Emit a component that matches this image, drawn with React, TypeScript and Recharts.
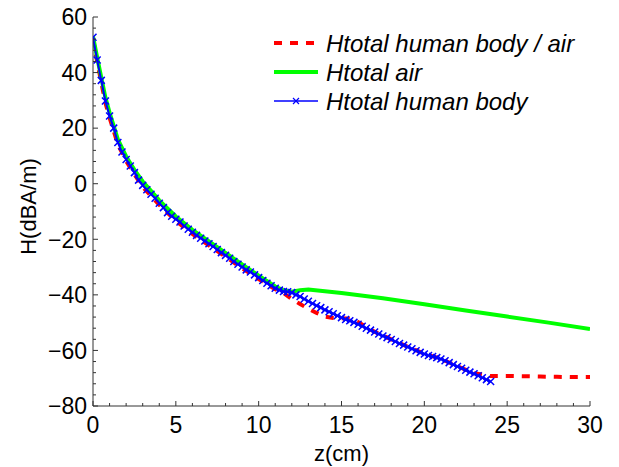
import { LineChart, Line, XAxis, YAxis } from "recharts";

// distance z (cm) and field H (dBA/m)
const zBody = [
  0, 0.25, 0.5, 0.75, 1, 1.25, 1.5, 1.75, 2, 2.25, 2.5, 2.75, 3, 3.25, 3.5, 3.75,
  4, 4.25, 4.5, 4.75, 5, 5.25, 5.5, 5.75, 6, 6.25, 6.5, 6.75, 7, 7.25, 7.5, 7.75,
  8, 8.25, 8.5, 8.75, 9, 9.25, 9.5, 9.75, 10, 10.25, 10.5, 10.75, 11, 11.25, 11.5, 11.75,
  12, 12.25, 12.5, 12.75, 13, 13.25, 13.5, 13.75, 14, 14.25, 14.5, 14.75, 15, 15.25, 15.5, 15.75,
  16, 16.25, 16.5, 16.75, 17, 17.25, 17.5, 17.75, 18, 18.25, 18.5, 18.75, 19, 19.25, 19.5, 19.75,
  20, 20.25, 20.5, 20.75, 21, 21.25, 21.5, 21.75, 22, 22.25, 22.5, 22.75, 23, 23.25, 23.5, 23.75, 24,
];
const hBody = [
  52.7, 44.5, 37.2, 29.8, 24.4, 20.0, 14.8, 11.4, 8.7, 6.4, 4.0, 1.3, -0.6, -2.2, -3.8, -5.2,
  -7.0, -8.6, -10.4, -11.7, -12.8, -13.8, -15.2, -16.4, -17.5, -18.6, -19.6, -20.6, -21.6, -22.6, -23.7, -24.8,
  -25.8, -26.8, -28.0, -29.0, -30.0, -31.0, -31.8, -32.8, -33.8, -34.8, -35.8, -36.7, -37.6, -38.3, -38.8, -38.9,
  -39.2, -40.0, -40.6, -41.5, -42.3, -43.1, -43.9, -44.6, -45.4, -46.1, -46.8, -47.5, -48.2, -48.9, -49.3, -49.9,
  -50.6, -51.3, -52.0, -52.7, -53.4, -54.1, -54.8, -55.4, -56.1, -56.8, -57.5, -58.1, -58.8, -59.4, -60.1, -60.7,
  -61.3, -61.8, -62.2, -62.6, -63.1, -63.7, -64.4, -65.1, -65.8, -66.4, -67.1, -67.8, -68.4, -69.1, -69.8, -70.5, -71.2,
];

const zAir = [
  0, 0.25, 0.5, 0.75, 1, 1.5, 2, 2.5, 3, 3.5, 4, 5, 6, 7, 8, 9, 10, 11, 11.5, 12, 12.5, 13,
  15, 17.5, 20, 22.5, 25, 27.5, 30,
];
const hAir = [
  53, 45.5, 38.2, 31, 25.6, 16, 9.8, 5, 0.8, -2.6, -6, -11.8, -16.6, -20.8, -24.9, -29, -33.1, -37,
  -38.4, -38.9, -38.3, -38.1, -39.3, -41.2, -43.4, -45.6, -47.8, -50, -52.3,
];

const zRatio = [
  0, 0.25, 0.5, 0.75, 1, 1.5, 2, 2.5, 3, 3.5, 4, 5, 6, 7, 8, 9, 10, 11, 11.5, 12, 12.5, 13,
  13.5, 14, 14.5, 15, 15.5, 16, 17, 18, 19, 20, 21, 22, 23, 24, 25, 26, 27, 28, 29, 30,
];
const hRatio = [
  52.2, 43.9, 36.5, 29.1, 23.8, 14.2, 8.2, 3.4, -1.1, -4.4, -7.6, -13.3, -18.1, -22.2, -26.3, -30.4,
  -34.3, -38, -39.3, -41.5, -43.3, -45, -46.5, -47.8, -48.3, -48.4, -48.6, -49.8, -53.3, -56, -58.7,
  -61.2, -63, -65.7, -68.2, -69.2, -69.2, -69.3, -69.4, -69.5, -69.6, -69.6,
];

const xTicks = [
  0, 1, 2, 3, 4, 5, 6, 7, 8, 9, 10, 11, 12, 13, 14, 15, 16, 17, 18, 19, 20, 21, 22, 23, 24, 25,
  26, 27, 28, 29, 30,
];
const yTicks = [
  -80, -76, -72, -68, -64, -60, -56, -52, -48, -44, -40, -36, -32, -28, -24, -20, -16, -12, -8, -4,
  0, 4, 8, 12, 16, 20, 24, 28, 32, 36, 40, 44, 48, 52, 56, 60,
];

const seriesNames = ["Htotal human body / air", "Htotal air", "Htotal human body"];

const FONT = "'Liberation Sans', Arial, Helvetica, sans-serif";
const AXIS = "#333";
const RED = "#ff0000";
const GREEN = "#00ff00";
const BLUE = "#0000ff";

const bodyData = zBody.map((z, i) => ({ z, h: hBody[i] }));
const airData = zAir.map((z, i) => ({ z, h: hAir[i] }));
const ratioData = zRatio.map((z, i) => ({ z, h: hRatio[i] }));

const fmt = (v: number) => String(v).replace("-", "\u2212");

// MATLAB style: ticks point into the plot, minor ones are shorter
function XTick(props: any) {
  const { x, y, payload } = props;
  const v = payload.value;
  const major = v % 5 === 0;
  return (
    <g>
      <line x1={x} x2={x} y1={y} y2={y - (major ? 5 : 3)} stroke={AXIS} />
      {major && (
        <text x={x} y={y + 19} dy="0.36em" textAnchor="middle" fontSize={23} fill="#000" fontFamily={FONT}>
          {fmt(v)}
        </text>
      )}
    </g>
  );
}

function YTick(props: any) {
  const { x, y, payload } = props;
  const v = payload.value;
  const major = v % 20 === 0;
  return (
    <g>
      <line x1={x} x2={x + (major ? 5 : 3)} y1={y} y2={y} stroke={AXIS} />
      {major && (
        <text x={x - 6} y={y} dy="0.36em" textAnchor="end" fontSize={23} fill="#000" fontFamily={FONT}>
          {fmt(v)}
        </text>
      )}
    </g>
  );
}

function Cross(props: any) {
  const { cx, cy, index } = props;
  if (cx == null || cy == null) return <g key={index} />;
  const s = 3.5;
  return (
    <path
      key={index}
      d={`M${cx - s},${cy - s}L${cx + s},${cy + s}M${cx - s},${cy + s}L${cx + s},${cy - s}`}
      stroke={BLUE}
      strokeWidth={1.5}
      fill="none"
    />
  );
}

function LegendBox() {
  const rows = [
    { stroke: RED, width: 4, dash: "8 8", marker: false },
    { stroke: GREEN, width: 4, dash: undefined, marker: false },
    { stroke: BLUE, width: 1.5, dash: undefined, marker: true },
  ];
  return (
    <svg width={340} height={110} style={{ position: "absolute", left: 262, top: 20 }}>
      {rows.map((r, i) => {
        const cy = 23 + i * 29;
        return (
          <g key={i}>
            <line x1={12} x2={56} y1={cy} y2={cy} stroke={r.stroke} strokeWidth={r.width} strokeDasharray={r.dash} />
            {r.marker && (
              <path d={`M31,${cy - 3}L37,${cy + 3}M31,${cy + 3}L37,${cy - 3}`} stroke={BLUE} strokeWidth={1.2} />
            )}
            <text x={64} y={cy + 8.5} fontSize={24} fontStyle="italic" fontFamily={FONT} fill="#000">
              {seriesNames[i]}
            </text>
          </g>
        );
      })}
    </svg>
  );
}

export default function App() {
  return (
    <div style={{ position: "relative", width: 619, height: 467, background: "#fff" }}>
      <style>{`body{margin:0}`}</style>
      <LineChart
        width={619}
        height={467}
        margin={{ top: 17, right: 29, bottom: 6, left: 33 }}
        style={{ fontFamily: FONT }}
      >
        <XAxis
          type="number"
          dataKey="z"
          domain={[0, 30]}
          ticks={xTicks}
          interval={0}
          allowDataOverflow
          height={55}
          tickSize={0}
          tickMargin={0}
          tick={<XTick />}
          axisLine={{ stroke: AXIS }}
          label={{ value: "z(cm)", position: "center", dy: 20, fontSize: 22, fill: "#000", fontFamily: FONT }}
        />
        <YAxis
          type="number"
          dataKey="h"
          domain={[-80, 60]}
          ticks={yTicks}
          interval={0}
          allowDataOverflow
          width={60}
          tickSize={0}
          tickMargin={0}
          tick={<YTick />}
          axisLine={{ stroke: AXIS }}
          label={{ value: "H(dBA/m)", angle: -90, position: "center", dx: -35, dy: -5, fontSize: 22, fill: "#000", fontFamily: FONT }}
        />
        <Line
          data={ratioData}
          dataKey="h"
          name={seriesNames[0]}
          type="linear"
          stroke={RED}
          strokeWidth={4}
          strokeDasharray="8 8"
          dot={false}
          isAnimationActive={false}
        />
        <Line
          data={airData}
          dataKey="h"
          name={seriesNames[1]}
          type="linear"
          stroke={GREEN}
          strokeWidth={4}
          dot={false}
          isAnimationActive={false}
        />
        <Line
          data={bodyData}
          dataKey="h"
          name={seriesNames[2]}
          type="linear"
          stroke={BLUE}
          strokeWidth={2}
          dot={<Cross />}
          isAnimationActive={false}
        />
      </LineChart>
      <LegendBox />
    </div>
  );
}
